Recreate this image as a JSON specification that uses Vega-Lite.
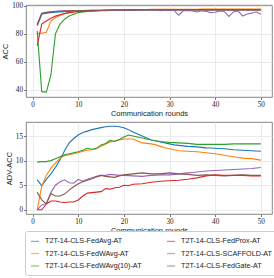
{
  "$schema": "https://vega.github.io/schema/vega-lite/v6.json",
  "padding": {"left": 1, "top": 1, "right": 2, "bottom": 0},
  "spacing": 3,
  "config": {
    "view": {"stroke": "#666", "strokeWidth": 0.8},
    "axis": {
      "labelFont": "Liberation Serif", "labelFontSize": 7.2, "labelColor": "#222",
      "tickColor": "#555", "tickSize": 2.5, "tickWidth": 0.8, "labelPadding": 1,
      "domain": false, "gridColor": "#e6e6e6", "gridWidth": 0.8,
      "titleFont": "Liberation Sans", "titleFontSize": 7.5, "titleFontWeight": "normal", "titleColor": "#222", "titlePadding": 2
    },
    "legend": {
      "labelFont": "Liberation Sans", "labelFontSize": 7.2, "labelColor": "#222"
    }
  },
  "datasets": {
    "acc": [
      {"r":1,"FedAvg":85.6,"FedWAvg":80.2,"FedWAvg(10)":82,"FedProx":71.6,"SCAFFOLD":87,"FedGate":86},
      {"r":2,"FedAvg":93.8,"FedWAvg":80.3,"FedWAvg(10)":38.8,"FedProx":86.8,"SCAFFOLD":94.5,"FedGate":94.3},
      {"r":3,"FedAvg":94.5,"FedWAvg":81,"FedWAvg(10)":38.5,"FedProx":89,"SCAFFOLD":95.3,"FedGate":95},
      {"r":4,"FedAvg":95,"FedWAvg":89,"FedWAvg(10)":50.5,"FedProx":91,"SCAFFOLD":95.6,"FedGate":95.5},
      {"r":5,"FedAvg":95.3,"FedWAvg":91.5,"FedWAvg(10)":79.8,"FedProx":92.5,"SCAFFOLD":95.9,"FedGate":95.8},
      {"r":6,"FedAvg":95.5,"FedWAvg":93,"FedWAvg(10)":86.8,"FedProx":93.5,"SCAFFOLD":96.1,"FedGate":96},
      {"r":7,"FedAvg":95.7,"FedWAvg":94.2,"FedWAvg(10)":90.3,"FedProx":94.3,"SCAFFOLD":96.2,"FedGate":96.1},
      {"r":8,"FedAvg":95.9,"FedWAvg":95,"FedWAvg(10)":92.6,"FedProx":95,"SCAFFOLD":96.3,"FedGate":96.2},
      {"r":9,"FedAvg":96,"FedWAvg":95.5,"FedWAvg(10)":93.8,"FedProx":95.4,"SCAFFOLD":96.4,"FedGate":96.3},
      {"r":10,"FedAvg":96.1,"FedWAvg":95.9,"FedWAvg(10)":95,"FedProx":95.8,"SCAFFOLD":96.5,"FedGate":96.4},
      {"r":11,"FedAvg":96.2,"FedWAvg":96.1,"FedWAvg(10)":95.5,"FedProx":96,"SCAFFOLD":96.5,"FedGate":96.5},
      {"r":12,"FedAvg":96.3,"FedWAvg":96.3,"FedWAvg(10)":95.8,"FedProx":96.2,"SCAFFOLD":96.6,"FedGate":96.5},
      {"r":13,"FedAvg":96.4,"FedWAvg":96.4,"FedWAvg(10)":96,"FedProx":96.3,"SCAFFOLD":96.6,"FedGate":96.6},
      {"r":14,"FedAvg":96.5,"FedWAvg":96.5,"FedWAvg(10)":96.2,"FedProx":96.4,"SCAFFOLD":96.7,"FedGate":96.6},
      {"r":15,"FedAvg":96.5,"FedWAvg":96.6,"FedWAvg(10)":96.3,"FedProx":96.5,"SCAFFOLD":96.7,"FedGate":96.7},
      {"r":16,"FedAvg":96.6,"FedWAvg":96.7,"FedWAvg(10)":96.4,"FedProx":96.6,"SCAFFOLD":96.7,"FedGate":96.7},
      {"r":17,"FedAvg":96.6,"FedWAvg":96.8,"FedWAvg(10)":96.5,"FedProx":96.7,"SCAFFOLD":96.8,"FedGate":96.8},
      {"r":18,"FedAvg":96.7,"FedWAvg":96.9,"FedWAvg(10)":96.6,"FedProx":96.7,"SCAFFOLD":96.8,"FedGate":96.8},
      {"r":19,"FedAvg":96.7,"FedWAvg":97,"FedWAvg(10)":96.7,"FedProx":96.8,"SCAFFOLD":96.8,"FedGate":96.8},
      {"r":20,"FedAvg":96.8,"FedWAvg":97,"FedWAvg(10)":96.8,"FedProx":96.8,"SCAFFOLD":96.8,"FedGate":96.9},
      {"r":21,"FedAvg":96.8,"FedWAvg":97.1,"FedWAvg(10)":96.8,"FedProx":96.9,"SCAFFOLD":96.9,"FedGate":96.9},
      {"r":22,"FedAvg":96.8,"FedWAvg":97.1,"FedWAvg(10)":96.9,"FedProx":96.9,"SCAFFOLD":96.8,"FedGate":96.9},
      {"r":23,"FedAvg":96.9,"FedWAvg":97.2,"FedWAvg(10)":96.9,"FedProx":96.9,"SCAFFOLD":96.9,"FedGate":96.9},
      {"r":24,"FedAvg":96.9,"FedWAvg":97.2,"FedWAvg(10)":96.9,"FedProx":97,"SCAFFOLD":96.7,"FedGate":97},
      {"r":25,"FedAvg":96.9,"FedWAvg":97.2,"FedWAvg(10)":97,"FedProx":97,"SCAFFOLD":96.9,"FedGate":97},
      {"r":26,"FedAvg":96.9,"FedWAvg":97.3,"FedWAvg(10)":97,"FedProx":97,"SCAFFOLD":96.8,"FedGate":97},
      {"r":27,"FedAvg":96.9,"FedWAvg":97.3,"FedWAvg(10)":97,"FedProx":97,"SCAFFOLD":96.9,"FedGate":97},
      {"r":28,"FedAvg":96.8,"FedWAvg":97.3,"FedWAvg(10)":97,"FedProx":97,"SCAFFOLD":96.3,"FedGate":97},
      {"r":29,"FedAvg":96.9,"FedWAvg":97.3,"FedWAvg(10)":97,"FedProx":97,"SCAFFOLD":96.7,"FedGate":97},
      {"r":30,"FedAvg":96.9,"FedWAvg":97.4,"FedWAvg(10)":97,"FedProx":97,"SCAFFOLD":96.8,"FedGate":97},
      {"r":31,"FedAvg":96.9,"FedWAvg":97.4,"FedWAvg(10)":97,"FedProx":97,"SCAFFOLD":96.5,"FedGate":97},
      {"r":32,"FedAvg":96.8,"FedWAvg":97.4,"FedWAvg(10)":97,"FedProx":97,"SCAFFOLD":93.2,"FedGate":97},
      {"r":33,"FedAvg":96.9,"FedWAvg":97.4,"FedWAvg(10)":97,"FedProx":97,"SCAFFOLD":96.3,"FedGate":97},
      {"r":34,"FedAvg":96.9,"FedWAvg":97.4,"FedWAvg(10)":97,"FedProx":97,"SCAFFOLD":96.5,"FedGate":97},
      {"r":35,"FedAvg":96.8,"FedWAvg":97.4,"FedWAvg(10)":97,"FedProx":97,"SCAFFOLD":96.2,"FedGate":97},
      {"r":36,"FedAvg":96.9,"FedWAvg":97.4,"FedWAvg(10)":97,"FedProx":97,"SCAFFOLD":95.4,"FedGate":97},
      {"r":37,"FedAvg":96.9,"FedWAvg":97.5,"FedWAvg(10)":97,"FedProx":97.1,"SCAFFOLD":96.3,"FedGate":97},
      {"r":38,"FedAvg":96.8,"FedWAvg":97.5,"FedWAvg(10)":97,"FedProx":97.1,"SCAFFOLD":95.9,"FedGate":97},
      {"r":39,"FedAvg":96.8,"FedWAvg":97.5,"FedWAvg(10)":97,"FedProx":97.1,"SCAFFOLD":95,"FedGate":97},
      {"r":40,"FedAvg":96.8,"FedWAvg":97.5,"FedWAvg(10)":97.1,"FedProx":97.1,"SCAFFOLD":95.3,"FedGate":97},
      {"r":41,"FedAvg":96.8,"FedWAvg":97.5,"FedWAvg(10)":97.1,"FedProx":97.1,"SCAFFOLD":96.2,"FedGate":97},
      {"r":42,"FedAvg":96.8,"FedWAvg":97.5,"FedWAvg(10)":97.1,"FedProx":97.1,"SCAFFOLD":95.8,"FedGate":97},
      {"r":43,"FedAvg":96.8,"FedWAvg":97.5,"FedWAvg(10)":97.1,"FedProx":97.1,"SCAFFOLD":92.3,"FedGate":97},
      {"r":44,"FedAvg":96.7,"FedWAvg":97.5,"FedWAvg(10)":97.1,"FedProx":97.1,"SCAFFOLD":95.5,"FedGate":97},
      {"r":45,"FedAvg":96.8,"FedWAvg":97.5,"FedWAvg(10)":97.1,"FedProx":97.1,"SCAFFOLD":96.2,"FedGate":97},
      {"r":46,"FedAvg":96.8,"FedWAvg":97.5,"FedWAvg(10)":97.1,"FedProx":97.1,"SCAFFOLD":92.6,"FedGate":97},
      {"r":47,"FedAvg":96.8,"FedWAvg":97.5,"FedWAvg(10)":97.1,"FedProx":97.1,"SCAFFOLD":94,"FedGate":97},
      {"r":48,"FedAvg":96.8,"FedWAvg":97.5,"FedWAvg(10)":97.1,"FedProx":97.1,"SCAFFOLD":94.6,"FedGate":97},
      {"r":49,"FedAvg":96.8,"FedWAvg":97.5,"FedWAvg(10)":97.1,"FedProx":97.1,"SCAFFOLD":95.6,"FedGate":97},
      {"r":50,"FedAvg":96.8,"FedWAvg":97.5,"FedWAvg(10)":97.1,"FedProx":97.1,"SCAFFOLD":93.8,"FedGate":97}
    ],
    "adv": [
      {"r":1,"FedAvg":6.15,"FedWAvg":0,"FedWAvg(10)":9.7,"FedProx":0,"SCAFFOLD":0,"FedGate":3.6},
      {"r":2,"FedAvg":4.9,"FedWAvg":4.8,"FedWAvg(10)":9.8,"FedProx":0,"SCAFFOLD":1,"FedGate":2},
      {"r":3,"FedAvg":6.2,"FedWAvg":7,"FedWAvg(10)":9.8,"FedProx":1.2,"SCAFFOLD":1.3,"FedGate":1.2},
      {"r":4,"FedAvg":7.3,"FedWAvg":8.5,"FedWAvg(10)":10,"FedProx":1.8,"SCAFFOLD":3.5,"FedGate":3.3},
      {"r":5,"FedAvg":8.6,"FedWAvg":9.5,"FedWAvg(10)":10.4,"FedProx":1.8,"SCAFFOLD":5,"FedGate":2.8},
      {"r":6,"FedAvg":10.2,"FedWAvg":10.5,"FedWAvg(10)":10.8,"FedProx":1.6,"SCAFFOLD":5.7,"FedGate":2.8},
      {"r":7,"FedAvg":12,"FedWAvg":11,"FedWAvg(10)":11.2,"FedProx":1.5,"SCAFFOLD":6.1,"FedGate":3.2},
      {"r":8,"FedAvg":13.6,"FedWAvg":11.2,"FedWAvg(10)":11.4,"FedProx":1.6,"SCAFFOLD":5.5,"FedGate":4},
      {"r":9,"FedAvg":14.5,"FedWAvg":11.4,"FedWAvg(10)":11.6,"FedProx":1.6,"SCAFFOLD":5.4,"FedGate":4.7},
      {"r":10,"FedAvg":15.2,"FedWAvg":11.6,"FedWAvg(10)":11.8,"FedProx":2,"SCAFFOLD":6.2,"FedGate":5.3},
      {"r":11,"FedAvg":15.7,"FedWAvg":11.9,"FedWAvg(10)":12.1,"FedProx":2.8,"SCAFFOLD":5.8,"FedGate":5.7},
      {"r":12,"FedAvg":16,"FedWAvg":12.1,"FedWAvg(10)":12.5,"FedProx":3.4,"SCAFFOLD":6.2,"FedGate":6},
      {"r":13,"FedAvg":16.3,"FedWAvg":12.2,"FedWAvg(10)":12.3,"FedProx":3.5,"SCAFFOLD":6.5,"FedGate":6.3},
      {"r":14,"FedAvg":16.5,"FedWAvg":12.4,"FedWAvg(10)":12.5,"FedProx":3.6,"SCAFFOLD":6.8,"FedGate":6.7},
      {"r":15,"FedAvg":16.7,"FedWAvg":12.9,"FedWAvg(10)":13.2,"FedProx":3.7,"SCAFFOLD":7,"FedGate":7},
      {"r":16,"FedAvg":16.9,"FedWAvg":13.4,"FedWAvg(10)":13.5,"FedProx":4.3,"SCAFFOLD":7,"FedGate":6.8},
      {"r":17,"FedAvg":17,"FedWAvg":13.8,"FedWAvg(10)":14.1,"FedProx":4.2,"SCAFFOLD":7.2,"FedGate":6.7},
      {"r":18,"FedAvg":17,"FedWAvg":14,"FedWAvg(10)":13.9,"FedProx":4.5,"SCAFFOLD":7.1,"FedGate":6.6},
      {"r":19,"FedAvg":16.9,"FedWAvg":14.2,"FedWAvg(10)":14.3,"FedProx":4.6,"SCAFFOLD":7,"FedGate":6.9},
      {"r":20,"FedAvg":16.7,"FedWAvg":14.4,"FedWAvg(10)":14.8,"FedProx":5,"SCAFFOLD":7,"FedGate":7.1},
      {"r":21,"FedAvg":16.3,"FedWAvg":14.4,"FedWAvg(10)":15.2,"FedProx":4.9,"SCAFFOLD":6.95,"FedGate":7.2},
      {"r":22,"FedAvg":15.8,"FedWAvg":14.4,"FedWAvg(10)":15,"FedProx":5.2,"SCAFFOLD":6.9,"FedGate":7.3},
      {"r":23,"FedAvg":15.4,"FedWAvg":14,"FedWAvg(10)":14.8,"FedProx":5.25,"SCAFFOLD":6.85,"FedGate":7.4},
      {"r":24,"FedAvg":15,"FedWAvg":13.6,"FedWAvg(10)":14.6,"FedProx":5.3,"SCAFFOLD":6.8,"FedGate":7.5},
      {"r":25,"FedAvg":14.6,"FedWAvg":13.5,"FedWAvg(10)":14.4,"FedProx":5.45,"SCAFFOLD":6.9,"FedGate":7.4},
      {"r":26,"FedAvg":14.2,"FedWAvg":13.4,"FedWAvg(10)":14.2,"FedProx":5.6,"SCAFFOLD":7,"FedGate":7.3},
      {"r":27,"FedAvg":14,"FedWAvg":13.2,"FedWAvg(10)":14.05,"FedProx":5.7,"SCAFFOLD":7.05,"FedGate":7.3},
      {"r":28,"FedAvg":13.8,"FedWAvg":12.9,"FedWAvg(10)":13.9,"FedProx":5.8,"SCAFFOLD":7.1,"FedGate":7.3},
      {"r":29,"FedAvg":13.6,"FedWAvg":12.6,"FedWAvg(10)":13.8,"FedProx":5.85,"SCAFFOLD":7.1,"FedGate":7.4},
      {"r":30,"FedAvg":13.4,"FedWAvg":12.4,"FedWAvg(10)":13.7,"FedProx":5.9,"SCAFFOLD":7.1,"FedGate":7.5},
      {"r":31,"FedAvg":13.2,"FedWAvg":12.2,"FedWAvg(10)":13.65,"FedProx":5.95,"SCAFFOLD":7.2,"FedGate":7.4},
      {"r":32,"FedAvg":13.1,"FedWAvg":12,"FedWAvg(10)":13.6,"FedProx":6,"SCAFFOLD":7.3,"FedGate":7.3},
      {"r":33,"FedAvg":13,"FedWAvg":11.95,"FedWAvg(10)":13.55,"FedProx":6.1,"SCAFFOLD":7.4,"FedGate":7.25},
      {"r":34,"FedAvg":12.9,"FedWAvg":11.9,"FedWAvg(10)":13.5,"FedProx":6.2,"SCAFFOLD":7.5,"FedGate":7.2},
      {"r":35,"FedAvg":12.85,"FedWAvg":11.85,"FedWAvg(10)":13.4,"FedProx":6.35,"SCAFFOLD":7.6,"FedGate":7.1},
      {"r":36,"FedAvg":12.8,"FedWAvg":11.8,"FedWAvg(10)":13.3,"FedProx":6.5,"SCAFFOLD":7.7,"FedGate":7},
      {"r":37,"FedAvg":12.7,"FedWAvg":11.7,"FedWAvg(10)":13.3,"FedProx":6.7,"SCAFFOLD":7.8,"FedGate":7.05},
      {"r":38,"FedAvg":12.6,"FedWAvg":11.6,"FedWAvg(10)":13.3,"FedProx":6.9,"SCAFFOLD":7.9,"FedGate":7.1},
      {"r":39,"FedAvg":12.55,"FedWAvg":11.5,"FedWAvg(10)":13.3,"FedProx":7,"SCAFFOLD":7.95,"FedGate":7.05},
      {"r":40,"FedAvg":12.5,"FedWAvg":11.4,"FedWAvg(10)":13.3,"FedProx":7.1,"SCAFFOLD":8,"FedGate":7},
      {"r":41,"FedAvg":12.45,"FedWAvg":11.25,"FedWAvg(10)":13.3,"FedProx":7.05,"SCAFFOLD":8.05,"FedGate":6.95},
      {"r":42,"FedAvg":12.4,"FedWAvg":11.1,"FedWAvg(10)":13.3,"FedProx":7,"SCAFFOLD":8.1,"FedGate":6.9},
      {"r":43,"FedAvg":12.3,"FedWAvg":10.95,"FedWAvg(10)":13.35,"FedProx":7,"SCAFFOLD":8.15,"FedGate":6.95},
      {"r":44,"FedAvg":12.2,"FedWAvg":10.8,"FedWAvg(10)":13.4,"FedProx":7,"SCAFFOLD":8.2,"FedGate":7},
      {"r":45,"FedAvg":12.15,"FedWAvg":10.65,"FedWAvg(10)":13.4,"FedProx":7,"SCAFFOLD":8.25,"FedGate":7.05},
      {"r":46,"FedAvg":12.1,"FedWAvg":10.5,"FedWAvg(10)":13.4,"FedProx":7,"SCAFFOLD":8.3,"FedGate":7.1},
      {"r":47,"FedAvg":12.05,"FedWAvg":10.45,"FedWAvg(10)":13.4,"FedProx":6.95,"SCAFFOLD":8.35,"FedGate":7.05},
      {"r":48,"FedAvg":12,"FedWAvg":10.4,"FedWAvg(10)":13.4,"FedProx":6.9,"SCAFFOLD":8.4,"FedGate":7},
      {"r":49,"FedAvg":11.95,"FedWAvg":10.25,"FedWAvg(10)":13.4,"FedProx":6.9,"SCAFFOLD":8.5,"FedGate":7},
      {"r":50,"FedAvg":11.9,"FedWAvg":10.1,"FedWAvg(10)":13.4,"FedProx":6.9,"SCAFFOLD":8.6,"FedGate":7}
    ]
  },
  "resolve": {"scale": {"color": "shared"}},
  "vconcat": [
    {
      "width": 246, "height": 92,
      "data": {"name": "acc"},
      "transform": [{"fold": ["FedAvg","FedWAvg","FedWAvg(10)","FedProx","SCAFFOLD","FedGate"], "as": ["s","v"]}],
      "mark": {"type": "line", "strokeWidth": 1.1, "clip": true},
      "encoding": {
        "x": {"field": "r", "type": "quantitative", "scale": {"domain": [-1.45, 52.45], "nice": false, "zero": false},
              "axis": {"values": [0,10,20,30,40,50], "title": "Communication rounds"}},
        "y": {"field": "v", "type": "quantitative", "scale": {"domain": [35, 100.4], "nice": false, "zero": false},
              "axis": {"values": [40,60,80,100], "title": "ACC"}},
        "color": {"field": "s", "type": "nominal",
          "scale": {"domain": ["FedAvg","FedWAvg","FedWAvg(10)","FedProx","SCAFFOLD","FedGate"],
                    "range": ["#1f77b4","#ff7f0e","#2ca02c","#d62728","#9467bd","#8c564b"]},
          "legend": {"orient": "none", "legendX": -1, "legendY": 226, "title": null, "columns": 2,
            "columnPadding": 22, "rowPadding": 3.5, "padding": 5, "strokeColor": "#cccccc", "fillColor": "white",
            "cornerRadius": 2, "symbolType": "stroke", "symbolStrokeWidth": 1.2, "symbolSize": 64, "symbolOpacity": 0.6,
            "labelOffset": 5, "labelExpr": "'T2T-14-CLS-' + datum.label + '-AT'"}}
      }
    },
    {
      "width": 246, "height": 92,
      "data": {"name": "adv"},
      "transform": [{"fold": ["FedAvg","FedWAvg","FedWAvg(10)","FedProx","SCAFFOLD","FedGate"], "as": ["s","v"]}],
      "mark": {"type": "line", "strokeWidth": 1.1, "clip": true},
      "encoding": {
        "x": {"field": "r", "type": "quantitative", "scale": {"domain": [-1.45, 52.45], "nice": false, "zero": false},
              "axis": {"values": [0,10,20,30,40,50], "title": "Communication rounds"}},
        "y": {"field": "v", "type": "quantitative", "scale": {"domain": [-0.85, 17.85], "nice": false, "zero": false},
              "axis": {"values": [0,5,10,15], "title": "ADV-ACC"}},
        "color": {"field": "s", "type": "nominal"}
      }
    }
  ]
}
